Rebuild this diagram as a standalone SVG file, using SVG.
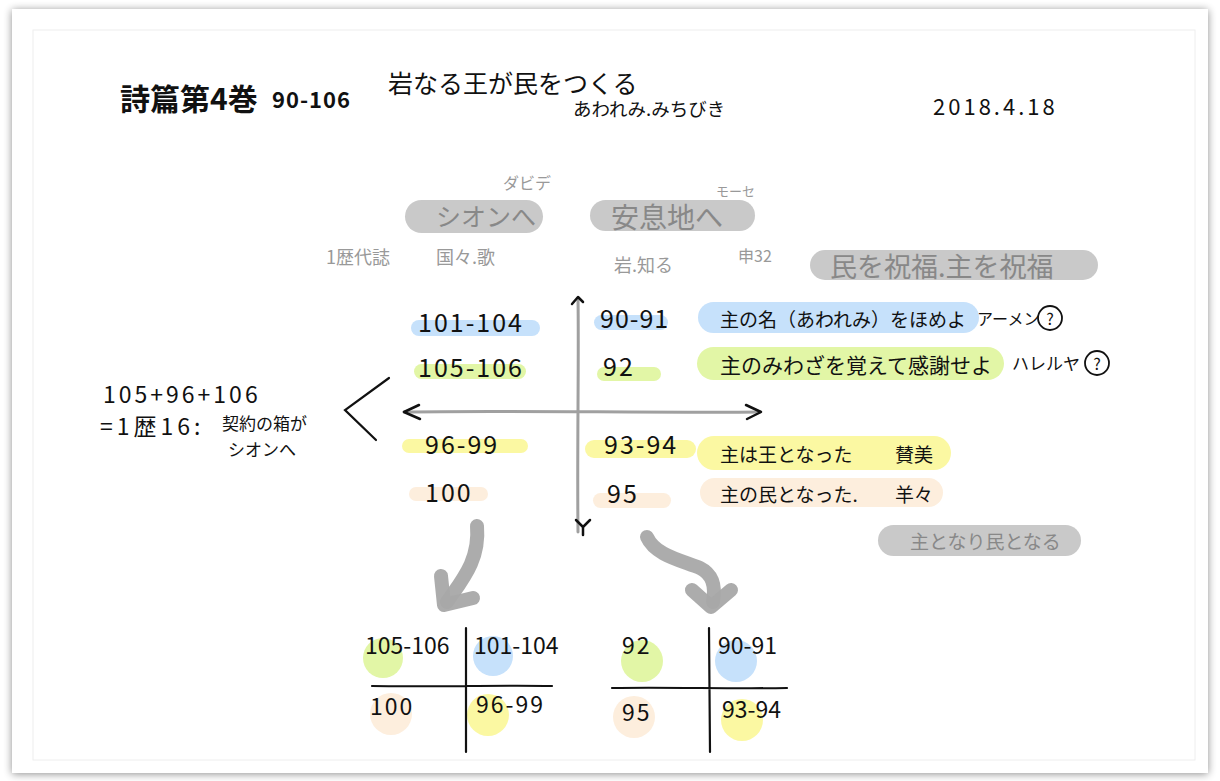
<svg xmlns="http://www.w3.org/2000/svg" width="1220" height="781" viewBox="0 0 1220 781">
<defs>
<filter id="sh" x="-5%" y="-5%" width="110%" height="110%"><feGaussianBlur in="SourceAlpha" stdDeviation="4"/><feOffset dx="0" dy="1"/><feComponentTransfer><feFuncA type="linear" slope="0.45"/></feComponentTransfer><feMerge><feMergeNode/><feMergeNode in="SourceGraphic"/></feMerge></filter>
<style>
text{font-family:"Noto Sans CJK JP","Noto Sans",sans-serif;fill:#111;dominant-baseline:central}
.g{fill:#888}
.lg{fill:#999}
.pill{fill:#c9c9c9}
.blue{fill:#c6e1fb}
.green{fill:#e2f6a6}
.yellow{fill:#fbf8a2}
.peach{fill:#fdeedd}
.ax{stroke:#a0a0a0;stroke-width:3;fill:none;stroke-linecap:round}
.ah{stroke:#111;stroke-width:2.5;fill:none;stroke-linecap:round;stroke-linejoin:round}
.ink{stroke:#111;stroke-width:2.2;fill:none;stroke-linecap:round}
.big{stroke:#a8a8a8;stroke-width:14;fill:none;stroke-linecap:round;stroke-linejoin:round;opacity:0.95}
.num{font-size:25px;letter-spacing:2px}
.sm{font-size:23px;letter-spacing:2px}
</style>
</defs>
<rect width="1220" height="781" fill="#ffffff"/>
<rect x="12" y="9" width="1196" height="764" fill="#fff" filter="url(#sh)"/>
<rect x="33" y="30" width="1162" height="730" fill="none" stroke="#eeeeee" stroke-width="1"/>

<g id="title">
<text x="120" y="97" style="font-size:30px;font-weight:600">詩篇第4巻</text>
<text x="272" y="98" style="font-size:22px;letter-spacing:1px;font-weight:600">90-106</text>
</g>
<g id="subtitle">
<text x="388" y="82" style="font-size:25px">岩なる王が民をつくる</text>
<text x="573" y="108" style="font-size:18.5px">あわれみ.みちびき</text>
</g>
<g id="date"><text x="933" y="105" style="font-size:22px;letter-spacing:3px">2018.4.18</text></g>

<g id="zion">
<rect class="pill" x="405" y="200" width="138" height="33" rx="16.5"/>
<text class="g" x="436" y="215" style="font-size:25px">シオンへ</text>
<text class="lg" x="503" y="182" style="font-size:16px">ダビデ</text>
</g>
<g id="rest">
<rect class="pill" x="590" y="200" width="165" height="31" rx="15.5"/>
<text class="g" x="611" y="216" style="font-size:28px">安息地へ</text>
<text class="lg" x="716" y="190" style="font-size:13px">モーセ</text>
</g>
<g id="notes-top">
<text class="lg" x="326" y="256" style="font-size:18px">1歴代誌</text>
<text class="lg" x="436" y="256" style="font-size:18px">国々.歌</text>
<text class="lg" x="614" y="264" style="font-size:18px">岩.知る</text>
<text class="lg" x="738" y="255" style="font-size:16px">申32</text>
</g>
<g id="bless">
<rect class="pill" x="810" y="250" width="288" height="30" rx="15"/>
<text class="g" x="830" y="265" style="font-size:27px">民を祝福.主を祝福</text>
</g>

<g id="connectors">
<path class="ax" d="M578,298 C579,360 577,450 578,532"/>
<path class="ax" d="M404,412 C500,410 650,413 760,412"/>
<path class="ah" d="M572,304 L578,297 L583,302"/>
<path class="ah" d="M576,520 L583,527 L590,520 M583,527 L583,535"/>
<path class="ah" d="M419,405 L404,412 L420,419"/>
<path class="ah" d="M746,405 L761,412 L747,419"/>
<path class="ink" d="M389,378 L345,410 L376,440"/>
<path class="big" d="M477,526 C480,560 462,580 447,602"/>
<path class="big" d="M441,576 L444,605 L473,598"/>
<path class="big" d="M647,537 C655,555 680,560 700,568 C712,574 716,585 713,602"/>
<path class="big" d="M692,590 L711,607 L731,590"/>
</g>

<g id="left-group">
<text x="103" y="393" class="sm" style="letter-spacing:3px">105+96+106</text>
<text x="100" y="425" class="sm" style="letter-spacing:4px">=1歴16:</text>
<text x="222" y="422" style="font-size:17px">契約の箱が</text>
<text x="228" y="448" style="font-size:17px">シオンへ</text>
</g>

<g id="n101">
<rect class="blue" x="411" y="320" width="129" height="16" rx="8"/>
<text x="418" y="321" class="num">101-104</text>
</g>
<g id="n105">
<rect class="green" x="414" y="364" width="112" height="15" rx="7.5"/>
<text x="418" y="366" class="num">105-106</text>
</g>
<g id="n96">
<rect class="yellow" x="402" y="439" width="126" height="14" rx="7"/>
<text x="425" y="443" class="num">96-99</text>
</g>
<g id="n100">
<rect class="peach" x="409" y="487" width="79" height="14" rx="7"/>
<text x="425" y="491" class="num">100</text>
</g>

<g id="n90">
<rect class="blue" x="594" y="315" width="74" height="15" rx="7.5"/>
<text x="600" y="317" class="num" style="letter-spacing:1px">90-91</text>
</g>
<g id="n92">
<rect class="green" x="597" y="367" width="64" height="14" rx="7"/>
<text x="603" y="365" class="num">92</text>
</g>
<g id="n93">
<rect class="yellow" x="585" y="440" width="111" height="18" rx="9"/>
<text x="604" y="443" class="num">93-94</text>
</g>
<g id="n95">
<rect class="peach" x="593" y="493" width="78" height="15" rx="7.5"/>
<text x="607" y="492" class="num">95</text>
</g>

<g id="r1">
<rect class="blue" x="698" y="302" width="281" height="31" rx="15.5"/>
<text x="720" y="318" style="font-size:19px">主の名（あわれみ）をほめよ</text>
<text x="977" y="318" style="font-size:16px">アーメン</text>
<circle cx="1050" cy="318" r="12" fill="none" stroke="#111" stroke-width="1.8"/>
<text x="1050" y="318" style="font-size:16px;text-anchor:middle">?</text>
</g>
<g id="r2">
<rect class="green" x="697" y="347" width="307" height="33" rx="16.5"/>
<text x="720" y="364" style="font-size:21px">主のみわざを覚えて感謝せよ</text>
<text x="1012" y="362" style="font-size:17px">ハレルヤ</text>
<circle cx="1097" cy="363" r="12" fill="none" stroke="#111" stroke-width="1.8"/>
<text x="1097" y="363" style="font-size:16px;text-anchor:middle">?</text>
</g>
<g id="r3">
<rect class="yellow" x="697" y="436" width="254" height="34" rx="17"/>
<text x="720" y="453" style="font-size:19px">主は王となった</text>
<text x="895" y="453" style="font-size:19px">賛美</text>
</g>
<g id="r4">
<rect class="peach" x="700" y="478" width="243" height="29" rx="14.5"/>
<text x="720" y="493" style="font-size:19px">主の民となった.</text>
<text x="895" y="493" style="font-size:19px">羊々</text>
</g>
<g id="king">
<rect class="pill" x="878" y="525" width="203" height="31" rx="15.5"/>
<text class="g" x="910" y="540" style="font-size:19px">主となり民となる</text>
</g>

<g id="grid-left">
<circle class="green" cx="383" cy="658" r="20"/>
<circle class="blue" cx="493" cy="656" r="20"/>
<circle class="peach" cx="391" cy="714" r="21"/>
<circle class="yellow" cx="488" cy="715" r="21"/>
<path class="ink" d="M466,628 L466,752 M372,686 C430,687 500,685 552,686"/>
<text x="365" y="644" class="num" style="font-size:23px;letter-spacing:0">105-106</text>
<text x="474" y="644" class="num" style="font-size:23px;letter-spacing:0">101-104</text>
<text x="370" y="705" class="num" style="font-size:23px">100</text>
<text x="476" y="703" class="num" style="font-size:23px">96-99</text>
</g>
<g id="grid-right">
<circle class="green" cx="642" cy="661" r="21"/>
<circle class="blue" cx="736" cy="661" r="21"/>
<circle class="peach" cx="634" cy="717" r="21"/>
<circle class="yellow" cx="742" cy="720" r="21"/>
<path class="ink" d="M709,628 L710,752 M612,688 C670,687 730,689 787,688"/>
<text x="622" y="644" class="num" style="font-size:23px">92</text>
<text x="718" y="644" class="num" style="font-size:23px;letter-spacing:0">90-91</text>
<text x="622" y="711" class="num" style="font-size:23px">95</text>
<text x="722" y="708" class="num" style="font-size:23px;letter-spacing:0">93-94</text>
</g>
</svg>
